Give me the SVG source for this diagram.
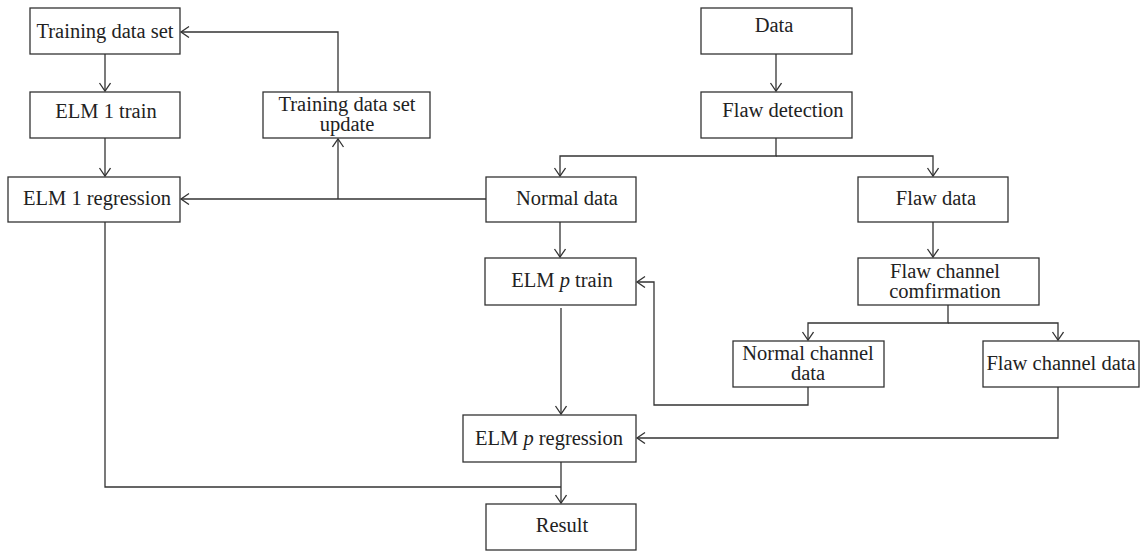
<svg xmlns="http://www.w3.org/2000/svg" width="1141" height="552" viewBox="0 0 1141 552">
<style>
.box{fill:#fff;stroke:#333;stroke-width:1.3}
.lbl{font-family:"Liberation Serif","Times New Roman",serif;font-size:20.5px;fill:#222;text-anchor:middle}
.c{fill:none;stroke:#333;stroke-width:1.3}
</style>
<defs>
<marker id="a" markerWidth="14" markerHeight="14" refX="10" refY="6" orient="auto" markerUnits="userSpaceOnUse">
<polyline points="2,0.5 10,6 2,11.5" fill="none" stroke="#333" stroke-width="1.3"/>
</marker>
</defs>
<rect width="1141" height="552" fill="#fff"/>
<g id="connectors">
<path class="c" d="M105,54 V91" marker-end="url(#a)"/>
<path class="c" d="M105,138 V176" marker-end="url(#a)"/>
<path class="c" d="M338,92 V32 H181" marker-end="url(#a)"/>
<path class="c" d="M486,199 H181" marker-end="url(#a)"/>
<path class="c" d="M338,199 V139" marker-end="url(#a)"/>
<path class="c" d="M776,54 V91" marker-end="url(#a)"/>
<path class="c" d="M776,138 V156 H560 V176" marker-end="url(#a)"/>
<path class="c" d="M776,156 H933 V176" marker-end="url(#a)"/>
<path class="c" d="M560,222 V257" marker-end="url(#a)"/>
<path class="c" d="M933,222 V257" marker-end="url(#a)"/>
<path class="c" d="M948,305 V323 H808 V340" marker-end="url(#a)"/>
<path class="c" d="M948,323 H1058 V340" marker-end="url(#a)"/>
<path class="c" d="M808,387 V405 H654 V282 H637" marker-end="url(#a)"/>
<path class="c" d="M561,308 V414" marker-end="url(#a)"/>
<path class="c" d="M1058,387 V438 H637" marker-end="url(#a)"/>
<path class="c" d="M561,462 V503" marker-end="url(#a)"/>
<path class="c" d="M105,222 V487 H561"/>
</g>
<g id="n_tds"><rect class="box" x="30" y="8" width="150" height="46"/><text class="lbl" x="105" y="38">Training data set</text></g>
<g id="n_elm1train"><rect class="box" x="30" y="92" width="150" height="46"/><text class="lbl" x="106" y="118">ELM 1 train</text></g>
<g id="n_elm1reg"><rect class="box" x="8" y="177" width="172" height="45"/><text class="lbl" x="97" y="205">ELM 1 regression</text></g>
<g id="n_tdsupdate"><rect class="box" x="263" y="92" width="167" height="46"/><text class="lbl" x="347" y="111">Training data set</text><text class="lbl" x="347" y="131">update</text></g>
<g id="n_data"><rect class="box" x="701" y="8" width="151" height="46"/><text class="lbl" x="774" y="32">Data</text></g>
<g id="n_flawdet"><rect class="box" x="701" y="92" width="151" height="46"/><text class="lbl" x="783" y="117">Flaw detection</text></g>
<g id="n_normal"><rect class="box" x="486" y="177" width="150" height="45"/><text class="lbl" x="567" y="205">Normal data</text></g>
<g id="n_flaw"><rect class="box" x="858" y="177" width="150" height="45"/><text class="lbl" x="936" y="205">Flaw data</text></g>
<g id="n_fcc"><rect class="box" x="858" y="258" width="181" height="47"/><text class="lbl" x="945" y="278">Flaw channel</text><text class="lbl" x="945" y="298">comfirmation</text></g>
<g id="n_elmptrain"><rect class="box" x="485" y="258" width="151" height="47"/><text class="lbl" x="562" y="287">ELM <tspan font-style="italic">p</tspan> train</text></g>
<g id="n_ncd"><rect class="box" x="733" y="341" width="151" height="46"/><text class="lbl" x="808" y="360">Normal channel</text><text class="lbl" x="808" y="380">data</text></g>
<g id="n_fcd"><rect class="box" x="983" y="341" width="156" height="46"/><text class="lbl" x="1061" y="370">Flaw channel data</text></g>
<g id="n_elmpreg"><rect class="box" x="463" y="415" width="173" height="47"/><text class="lbl" x="549" y="445">ELM <tspan font-style="italic">p</tspan> regression</text></g>
<g id="n_result"><rect class="box" x="486" y="504" width="150" height="46"/><text class="lbl" x="562" y="532">Result</text></g>
</svg>
